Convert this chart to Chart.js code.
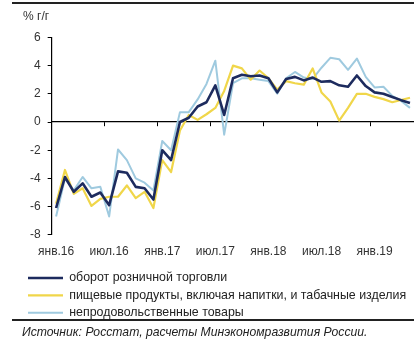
<!DOCTYPE html>
<html lang="ru">
<head>
<meta charset="utf-8">
<script src="https://cdn.jsdelivr.net/npm/chart.js@4.4.1/dist/chart.umd.min.js"></script>
<style>
  html, body { margin: 0; padding: 0; background: #fff; width: 414px; height: 341px; overflow: hidden; }
  #wrap { position: absolute; left: 0; top: 0; width: 420px; height: 329px; }
  .rule { position: absolute; left: 12px; width: 410px; height: 1.5px; background: #222; }
  #source { position: absolute; left: 22px; top: 325px; font: italic 12.2px "Liberation Sans", Arial, sans-serif; color: #222; white-space: nowrap; }
</style>
</head>
<body>
<div class="rule" style="top:2px"></div>
<div id="wrap"><canvas id="chart"></canvas></div>
<div class="rule" style="top:319px"></div>
<div id="source">Источник: Росстат, расчеты Минэкономразвития России.</div>
<script>
// Months Jan 2016 – May 2019, year-over-year change, %
const months = [
  'янв.16','фев.16','мар.16','апр.16','май.16','июн.16','июл.16','авг.16','сен.16','окт.16','ноя.16','дек.16',
  'янв.17','фев.17','мар.17','апр.17','май.17','июн.17','июл.17','авг.17','сен.17','окт.17','ноя.17','дек.17',
  'янв.18','фев.18','мар.18','апр.18','май.18','июн.18','июл.18','авг.18','сен.18','окт.18','ноя.18','дек.18',
  'янв.19','фев.19','мар.19','апр.19','май.19'
];
// Month labels shown on the axis (every six months)
const shownLabels = ['янв.16','июл.16','янв.17','июл.17','янв.18','июл.18','янв.19'];

const retailTurnover = [
  -6.1, -3.9, -4.95, -4.35, -5.3, -5.0, -5.9, -3.5, -3.6, -4.6, -4.7, -5.5,
  -2.0, -2.7, 0.0, 0.3, 1.1, 1.4, 2.6, 0.5, 3.1, 3.35, 3.25, 3.3,
  3.1, 2.1, 3.05, 3.2, 2.95, 3.15, 2.85, 2.9, 2.6, 2.5, 3.3, 2.55,
  2.1, 2.0, 1.78, 1.55, 1.35
];
const foodProducts = [
  -5.8, -3.4, -5.1, -4.7, -5.95, -5.45, -5.3, -5.3, -4.5, -5.4, -4.95, -6.1,
  -2.7, -3.55, -0.6, 0.5, 0.15, 0.55, 1.0, 2.2, 4.0, 3.8, 3.0, 3.65,
  3.1, 2.3, 2.9, 2.75, 2.65, 3.8, 2.1, 1.45, 0.1, 1.0, 2.0, 2.0,
  1.78, 1.62, 1.4, 1.56, 1.72
];
const nonFoodGoods = [
  -6.7, -4.0, -4.85, -3.9, -4.7, -4.6, -6.7, -1.95, -2.7, -4.0, -4.3, -4.85,
  -1.35, -2.0, 0.7, 0.7, 1.6, 2.7, 4.35, -0.9, 2.75, 3.1, 3.1, 3.0,
  2.9, 2.0, 3.1, 3.55, 3.15, 3.05, 3.85, 4.55, 4.45, 3.7, 4.5, 3.2,
  2.45, 2.5, 1.85, 1.5, 1.0
];

const seriesNames = [
  'оборот розничной торговли',
  'пищевые продукты, включая напитки, и табачные изделия',
  'непродовольственные товары'
];
const yTicks = [6, 4, 2, 0, -2, -4, -6, -8];

const FONT = '"Liberation Sans", Arial, sans-serif';
Chart.defaults.font.family = FONT;
Chart.defaults.font.size = 12;
Chart.defaults.color = '#333';

const sixMonthMark = ctx => (ctx.index % 6 === 0 ? '#000' : 'rgba(0,0,0,0)');

new Chart(document.getElementById('chart'), {
  type: 'line',
  data: {
    labels: months,
    datasets: [
      { label: seriesNames[0], data: retailTurnover, borderColor: '#1d2b5e', backgroundColor: '#1d2b5e', borderWidth: 2.6 },
      { label: seriesNames[1], data: foodProducts, borderColor: '#f0d64a', backgroundColor: '#f0d64a', borderWidth: 2.2 },
      { label: seriesNames[2], data: nonFoodGoods, borderColor: '#9fcadf', backgroundColor: '#9fcadf', borderWidth: 2.0 }
    ]
  },
  options: {
    responsive: true,
    maintainAspectRatio: false,
    animation: false,
    layout: { padding: { left: 23, right: 3, top: 0, bottom: 0 } },
    elements: {
      point: { radius: 0, hoverRadius: 0 },
      line: { tension: 0, fill: false, borderJoinStyle: 'round' }
    },
    scales: {
      x: {
        type: 'category',
        position: 'bottom',
        offset: true,
        grid: { display: false, drawTicks: false },
        border: { display: false },
        ticks: {
          autoSkip: false,
          maxRotation: 0,
          minRotation: 0,
          padding: 10,
          color: '#333',
          callback: function (value) {
            const lab = this.getLabelForValue(value);
            return shownLabels.includes(lab) ? lab : '';
          }
        },
        afterFit: scale => { scale.height -= 2.4; }
      },
      xZero: {
        type: 'category',
        position: { y: 0 },
        offset: true,
        grid: {
          offset: true,
          drawOnChartArea: false,
          drawTicks: true,
          tickLength: 4,
          tickWidth: 1,
          tickColor: sixMonthMark
        },
        border: { display: true, color: '#000', width: 1.2 },
        ticks: { display: false, autoSkip: false }
      },
      y: {
        min: -8,
        max: 6,
        afterBuildTicks: scale => { scale.ticks = yTicks.map(v => ({ value: v })); },
        grid: {
          drawOnChartArea: false,
          drawTicks: true,
          tickLength: 4,
          tickColor: '#000',
          tickWidth: 1
        },
        border: { display: true, color: '#000', width: 1.2 },
        ticks: { padding: 7, color: '#333' }
      }
    },
    plugins: {
      title: {
        display: true,
        text: '% г/г',
        align: 'start',
        color: '#333',
        font: { size: 12, weight: 'normal' },
        padding: { top: 9, bottom: 14 }
      },
      legend: {
        display: true,
        position: 'bottom',
        align: 'start',
        labels: {
          usePointStyle: true,
          pointStyle: 'line',
          pointStyleWidth: 35,
          padding: 5,
          color: '#222',
          font: { size: 12.4 }
        }
      },
      tooltip: { enabled: false }
    }
  }
});
</script>
</body>
</html>
